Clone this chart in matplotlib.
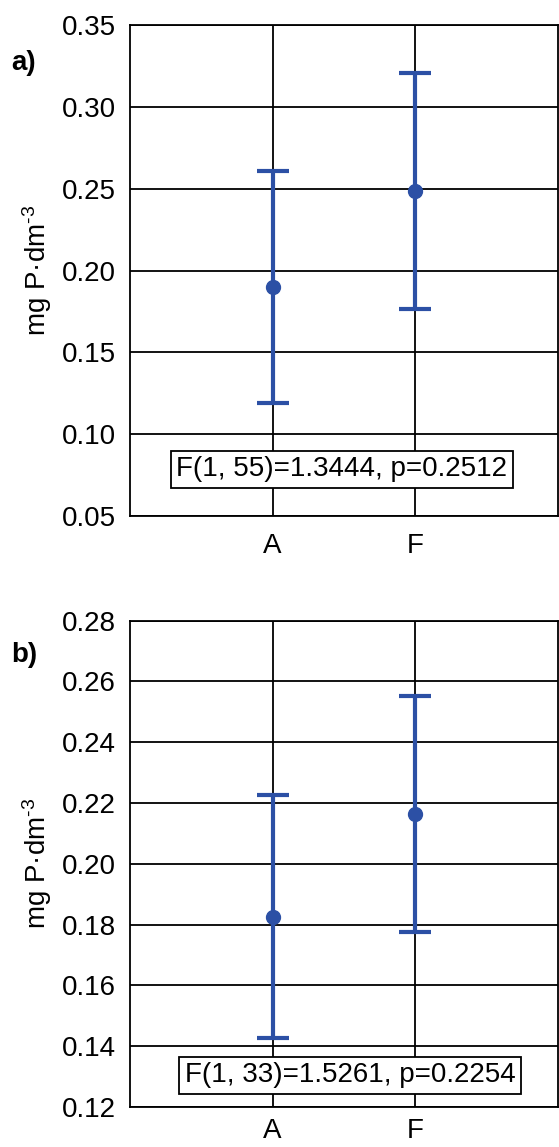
import numpy as np
import matplotlib
matplotlib.use('Agg')
import matplotlib.pyplot as plt

plt.rcParams['font.family'] = ['Liberation Sans', 'DejaVu Sans']
plt.rcParams['mathtext.fontset'] = 'custom'
plt.rcParams['mathtext.rm'] = 'Liberation Sans'
plt.rcParams['mathtext.it'] = 'Liberation Sans'

groups = ['A', 'F']
means_a = [0.190, 0.2485]
err_a = [0.071, 0.072]
means_b = [0.1826, 0.2164]
err_b = [0.0399, 0.0387]
stat_a = 'F(1, 55)=1.3444, p=0.2512'
stat_b = 'F(1, 33)=1.5261, p=0.2254'
ticks_a = [0.05, 0.10, 0.15, 0.20, 0.25, 0.30, 0.35]
ticks_b = [0.12, 0.14, 0.16, 0.18, 0.20, 0.22, 0.24, 0.26, 0.28]

blue = '#2c50a5'
fs = 20

fig = plt.figure(figsize=(5.59, 11.47), dpi=100)
ax1 = fig.add_axes([0.2326, 0.5501, 0.7656, 0.4281])
ax2 = fig.add_axes([0.2326, 0.0349, 0.7656, 0.4240])


def panel(ax, means, errs, ticks, stat, sx, sy, letter, ly, xpad):
    x = np.arange(len(groups))
    ax.errorbar(x, means, yerr=errs, fmt='o', color=blue, ms=10, lw=3,
                capsize=11.5, capthick=3, zorder=3)
    ax.set_xlim(-1, 2)
    ax.set_ylim(ticks[0], ticks[-1])
    ax.set_yticks(ticks)
    ax.set_yticklabels(['%.2f' % t for t in ticks], fontsize=fs)
    ax.set_xticks(x)
    ax.set_xticklabels(groups, fontsize=fs)
    ax.tick_params(axis='both', length=0)
    ax.tick_params(axis='y', pad=10)
    ax.tick_params(axis='x', pad=xpad)
    ax.grid(True, color='black', lw=1.3)
    ax.set_axisbelow(True)
    for s in ax.spines.values():
        s.set_linewidth(1.3)
    ax.set_ylabel(r'mg P·dm$^{\text{-}3}$', fontsize=fs, labelpad=6)
    ax.text(sx, sy, stat, fontsize=fs, ha='center', va='center', zorder=4,
            bbox=dict(boxstyle='square,pad=0.2', fc='white', ec='black', lw=1.3))
    fig.text(0.02, ly, letter, fontsize=fs, fontweight='bold', va='center')


panel(ax1, means_a, err_a, ticks_a, stat_a, 0.483, 0.0786, 'a)', 1 - 63 / 1147, 12)
panel(ax2, means_b, err_b, ticks_b, stat_b, 0.545, 0.1304, 'b)', 1 - 655 / 1147, 8)

fig.savefig('out.png', dpi=100)
